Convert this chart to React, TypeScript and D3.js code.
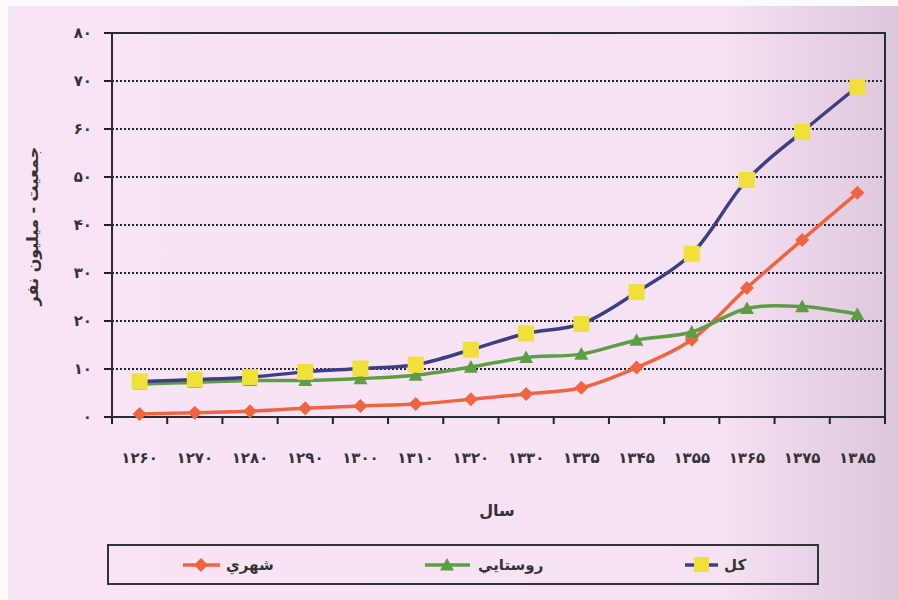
import React from "react";
import * as d3 from "d3";

const years = ["۱۲۶۰", "۱۲۷۰", "۱۲۸۰", "۱۲۹۰", "۱۳۰۰", "۱۳۱۰", "۱۳۲۰", "۱۳۳۰", "۱۳۳۵", "۱۳۴۵", "۱۳۵۵", "۱۳۶۵", "۱۳۷۵", "۱۳۸۵"];
const urban = [0.6, 0.9, 1.2, 1.8, 2.3, 2.7, 3.7, 4.8, 6.1, 10.3, 16.1, 26.9, 36.9, 46.7];
const rural = [6.9, 7.2, 7.6, 7.6, 8.0, 8.7, 10.4, 12.4, 13.1, 16.0, 17.7, 22.6, 23.0, 21.4];
const total = [7.4, 7.8, 8.3, 9.4, 10.1, 10.9, 14.0, 17.4, 19.4, 26.0, 34.0, 49.4, 59.4, 68.8];
const yTicks = [0, 10, 20, 30, 40, 50, 60, 70, 80];
const yTickLabels = ["۰", "۱۰", "۲۰", "۳۰", "۴۰", "۵۰", "۶۰", "۷۰", "۸۰"];
const seriesNames = ["شهري", "روستايي", "كل"];

const W = 898, H = 600;
const L = 112, R = 885, T = 33, B = 417;
const FONT = "'DejaVu Sans', sans-serif";

export default function App() {
  const x = d3.scaleBand<string>().domain(years).range([L, R]);
  const y = d3.scaleLinear().domain([0, 80]).range([B, T]);
  const cx = (i: number) => (x(years[i]) as number) + x.bandwidth() / 2;
  const line = d3
    .line<number>()
    .x((_, i) => cx(i))
    .y((v) => y(v))
    .curve(d3.curveCatmullRom.alpha(0.5));

  const red = "#f0653f";
  const green = "#5d9e45";
  const navy = "#3c3f86";
  const yellow = "#efe03a";

  const diamond = (px: number, py: number, s: number) =>
    `M${px},${py - s}L${px + s},${py}L${px},${py + s}L${px - s},${py}Z`;
  const triangle = (px: number, py: number, s: number) =>
    `M${px},${py - s}L${px + s},${py + s * 0.8}L${px - s},${py + s * 0.8}Z`;

  return (
    <svg width={W} height={H} style={{ position: "absolute", left: 0, top: 0 }} fontFamily={FONT}>
      <defs>
        <linearGradient id="bg" x1="0" x2="1" y1="0" y2="0">
          <stop offset="0" stopColor="#f9e4f5" />
          <stop offset="0.8" stopColor="#f5e2f2" />
          <stop offset="1" stopColor="#dcc6dc" />
        </linearGradient>
      </defs>
      <rect x={0} y={0} width={W} height={H} fill="#fdfafc" />
      <rect x={8} y={6} width={W - 8} height={H - 6} fill="url(#bg)" />

      {/* gridlines */}
      {yTicks.map((t) => (
        <line key={"g" + t} x1={L} x2={R} y1={y(t)} y2={y(t)} stroke="#22222e" strokeWidth={1.8} strokeDasharray="2,2" />
      ))}
      {/* y ticks & labels */}
      {yTicks.map((t, i) => (
        <g key={"y" + t}>
          <line x1={L - 8} x2={L} y1={y(t)} y2={y(t)} stroke="#222" strokeWidth={2} />
          <text x={L - 20} y={y(t)} dy="0.35em" textAnchor="end" fontSize={15} fontWeight="bold" fill="#333">
            {yTickLabels[i]}
          </text>
        </g>
      ))}
      {/* plot frame */}
      <rect x={L} y={T} width={R - L} height={B - T} fill="none" stroke="#2b2b33" strokeWidth={2} />
      {/* x ticks */}
      {years.map((yr) => (
        <line key={"xt" + yr} x1={x(yr) as number} x2={x(yr) as number} y1={B} y2={B + 7} stroke="#222" strokeWidth={2} />
      ))}
      <line x1={R} x2={R} y1={B} y2={B + 7} stroke="#222" strokeWidth={2} />
      {years.map((yr, i) => (
        <text key={"xl" + yr} x={cx(i)} y={463} textAnchor="middle" fontSize={15} fontWeight="bold" fill="#333">
          {yr}
        </text>
      ))}
      <text x={497} y={516} textAnchor="middle" fontSize={16} fontWeight="bold" fill="#333">
        سال
      </text>
      <text transform={`translate(38,226) rotate(-90)`} textAnchor="middle" fontSize={16} fontWeight="bold" fill="#333">
        جمعیت - میلیون نفر
      </text>

      {/* series */}
      <path d={line(urban) as string} fill="none" stroke={red} strokeWidth={3.5} />
      <path d={line(rural) as string} fill="none" stroke={green} strokeWidth={3.5} />
      <path d={line(total) as string} fill="none" stroke={navy} strokeWidth={3.5} />
      {urban.map((v, i) => (
        <path key={"u" + i} d={diamond(cx(i), y(v), 7)} fill={red} />
      ))}
      {rural.map((v, i) => (
        <path key={"r" + i} d={triangle(cx(i), y(v), 7)} fill={green} />
      ))}
      {total.map((v, i) => (
        <rect key={"t" + i} x={cx(i) - 8} y={y(v) - 8} width={16} height={16} fill={yellow} />
      ))}

      {/* legend */}
      <rect x={108} y={545} width={710} height={39} fill="none" stroke="#333" strokeWidth={2} />
      <line x1={183} x2={220} y1={565} y2={565} stroke={red} strokeWidth={3.5} />
      <path d={diamond(201, 565, 7)} fill={red} />
      <text x={226} y={565} dy="0.35em" fontSize={15} fontWeight="bold" fill="#333" textAnchor="start">
        {seriesNames[0]}
      </text>
      <line x1={425} x2={470} y1={565} y2={565} stroke={green} strokeWidth={3.5} />
      <path d={triangle(447, 565, 7)} fill={green} />
      <text x={478} y={565} dy="0.35em" fontSize={15} fontWeight="bold" fill="#333" textAnchor="start">
        {seriesNames[1]}
      </text>
      <line x1={685} x2={718} y1={565} y2={565} stroke={navy} strokeWidth={3.5} />
      <rect x={694} y={557} width={15} height={15} fill={yellow} />
      <text x={724} y={565} dy="0.35em" fontSize={15} fontWeight="bold" fill="#333" textAnchor="start">
        {seriesNames[2]}
      </text>
    </svg>
  );
}
